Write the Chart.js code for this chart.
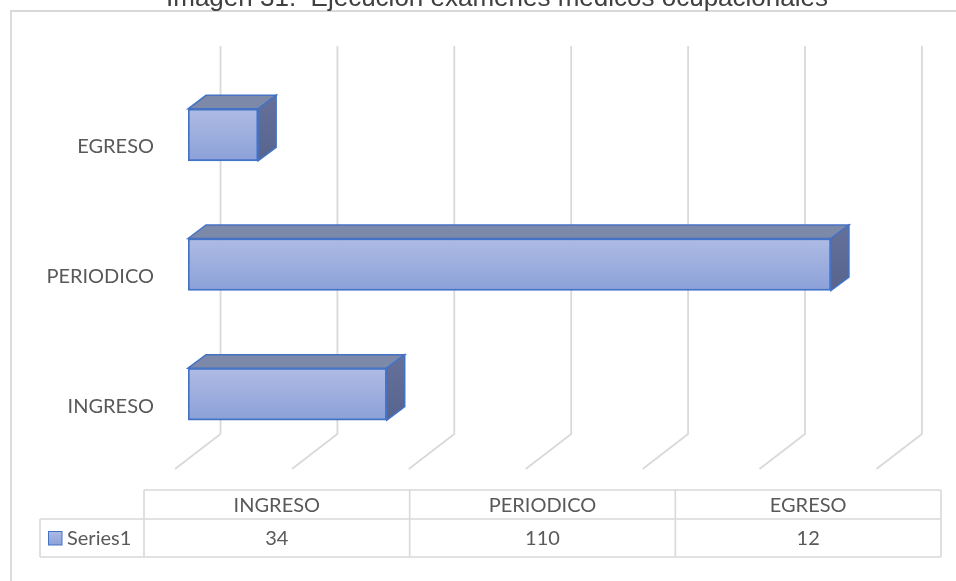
<!DOCTYPE html>
<html><head><meta charset="utf-8">
<script src="https://cdn.jsdelivr.net/npm/chart.js@4.4.1/dist/chart.umd.min.js"></script>
<style>html,body{margin:0;padding:0;background:#fff;overflow:hidden}#wrap{position:relative;width:956px;height:581px}</style>
</head><body><div id="wrap"><canvas id="c" width="956" height="581"></canvas></div>
<script>
const chartTitle = 'Imagen 31.  Ejecución exámenes médicos ocupacionales';
const categories = ['INGRESO', 'PERIODICO', 'EGRESO'];
const seriesName = 'Series1';
const seriesValues = [34, 110, 12];
const valueMin = 0;
const valueMax = 120;
const valueStep = 20;

const FONT = 'Lato, "Open Sans", sans-serif';
const TXT = '#595959';
const GRID = '#d9d9d9';
const DX = 18, DY = -13.5;           // bar depth
const WALL_DX = 32.5;                // back wall offset from bar plane
const WALL_TOP = 46, WALL_BOT = 434, FLOOR_Y = 469, FLOOR_DX = -45.5;

const threeD = {
  id: 'threeD',
  beforeDatasetsDraw(chart) {
    const ctx = chart.ctx, xs = chart.scales.x;
    ctx.save();
    ctx.strokeStyle = GRID; ctx.lineWidth = 1.8;
    for (let v = valueMin; v <= valueMax; v += valueStep) {
      const px = xs.getPixelForValue(v) + WALL_DX;
      ctx.beginPath();
      ctx.moveTo(px, WALL_TOP);
      ctx.lineTo(px, WALL_BOT);
      ctx.lineTo(px + FLOOR_DX, FLOOR_Y);
      ctx.stroke();
    }
    const meta = chart.getDatasetMeta(0);
    meta.data.forEach(el => {
      const p = el.getProps(['x', 'y', 'base', 'height'], true);
      const L = Math.min(p.x, p.base), R = Math.max(p.x, p.base);
      const T = p.y - p.height / 2, B = p.y + p.height / 2;
      ctx.lineWidth = 1.5; ctx.strokeStyle = '#4472c4';
      ctx.beginPath();
      ctx.moveTo(L, T); ctx.lineTo(L + DX, T + DY); ctx.lineTo(R + DX, T + DY); ctx.lineTo(R, T); ctx.closePath();
      ctx.fillStyle = '#7d89a8'; ctx.fill(); ctx.stroke();
      const g = ctx.createLinearGradient(0, T + DY, 0, B);
      g.addColorStop(0, '#66719a'); g.addColorStop(1, '#56648e');
      ctx.beginPath();
      ctx.moveTo(R, T); ctx.lineTo(R + DX, T + DY); ctx.lineTo(R + DX, B + DY); ctx.lineTo(R, B); ctx.closePath();
      ctx.fillStyle = g; ctx.fill(); ctx.stroke();
    });
    ctx.restore();
  },
  afterDraw(chart) {
    const ctx = chart.ctx;
    ctx.save();
    ctx.strokeStyle = GRID; ctx.lineWidth = 1.8;
    ctx.beginPath(); ctx.moveTo(11, 590); ctx.lineTo(11, 11); ctx.lineTo(960, 11); ctx.stroke();
    ctx.fillStyle = '#404040';
    ctx.font = '26px "Liberation Sans", Arial, sans-serif';
    ctx.textAlign = 'center'; ctx.textBaseline = 'alphabetic';
    ctx.fillText(chartTitle, 497, 6);
    const x0 = 40, c0 = 144, x1 = 941, yTop = 490, yMid = 519, yBot = 557;
    const colW = (x1 - c0) / categories.length;
    ctx.strokeStyle = GRID; ctx.lineWidth = 1.6;
    ctx.beginPath();
    ctx.moveTo(c0, yTop); ctx.lineTo(x1, yTop);
    ctx.moveTo(x0, yMid); ctx.lineTo(x1, yMid);
    ctx.moveTo(x0, yBot); ctx.lineTo(x1, yBot);
    ctx.moveTo(x0, yMid); ctx.lineTo(x0, yBot);
    for (let i = 0; i <= categories.length; i++) {
      const cx = c0 + i * colW;
      ctx.moveTo(cx, yTop); ctx.lineTo(cx, yBot);
    }
    ctx.stroke();
    ctx.fillStyle = TXT; ctx.font = '20px ' + FONT; ctx.textBaseline = 'middle'; ctx.textAlign = 'center';
    categories.forEach((c, i) => {
      ctx.fillText(c, c0 + (i + 0.5) * colW, (yTop + yMid) / 2 + 1);
      ctx.fillText(String(seriesValues[i]), c0 + (i + 0.5) * colW, (yMid + yBot) / 2 + 1);
    });
    const lg = ctx.createLinearGradient(0, 531, 0, 545);
    lg.addColorStop(0, '#aebbe3'); lg.addColorStop(1, '#8ca1d9');
    ctx.fillStyle = lg; ctx.fillRect(48.5, 531, 13.5, 14);
    ctx.strokeStyle = '#4472c4'; ctx.lineWidth = 1; ctx.strokeRect(48.5, 531.5, 13.5, 13.5);
    ctx.fillStyle = TXT; ctx.textAlign = 'left';
    ctx.fillText(seriesName, 67, (yMid + yBot) / 2 + 1);
    ctx.restore();
  }
};

new Chart(document.getElementById('c'), {
  type: 'bar',
  data: {
    labels: categories,
    datasets: [{
      label: seriesName,
      data: seriesValues,
      barThickness: 52,
      backgroundColor: (c) => {
        const ys = c.chart.scales.y;
        if (!ys || c.dataIndex === undefined) return '#9aacdd';
        const yc = ys.getPixelForValue(c.dataIndex);
        if (!isFinite(yc)) return '#9aacdd';
        const g = c.chart.ctx.createLinearGradient(0, yc - 26, 0, yc + 26);
        g.addColorStop(0, '#aebbe3'); g.addColorStop(1, '#8ca1d9');
        return g;
      },
      borderColor: '#4472c4',
      borderWidth: 2,
      borderSkipped: false
    }]
  },
  options: {
    indexAxis: 'y',
    responsive: false,
    animation: false,
    devicePixelRatio: 1,
    layout: { padding: { left: 0, right: 66.6, top: 70, bottom: 122 } },
    scales: {
      x: { display: false, min: valueMin, max: valueMax, ticks: { stepSize: valueStep } },
      y: {
        reverse: true,
        grid: { display: false, drawTicks: false },
        border: { display: false },
        ticks: { color: TXT, font: { family: FONT, size: 20 }, padding: 34, labelOffset: 12 },
        afterFit(s) { s.width = 188; }
      }
    },
    plugins: { legend: { display: false }, tooltip: { enabled: false }, title: { display: false } }
  },
  plugins: [threeD]
});
</script></body></html>
